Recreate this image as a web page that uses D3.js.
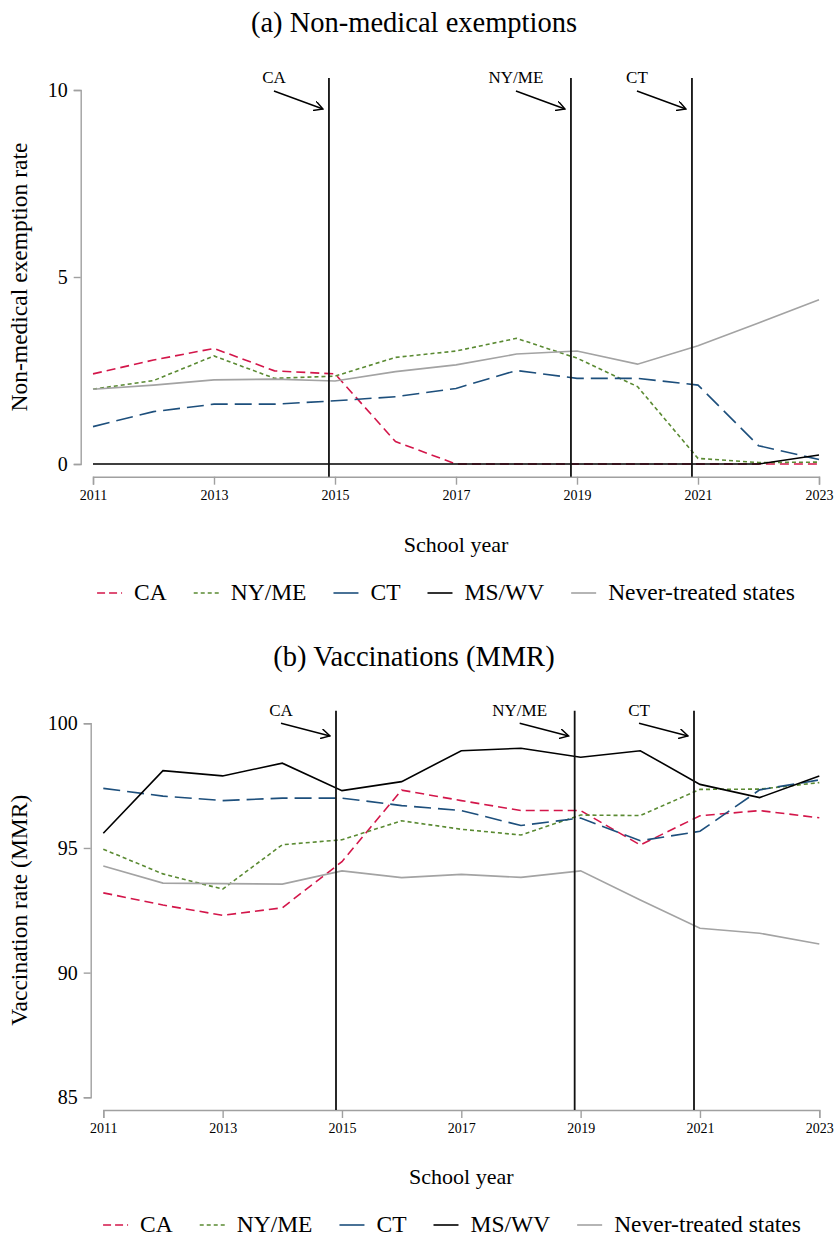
<!DOCTYPE html>
<html>
<head>
<meta charset="utf-8">
<title>Exemptions and vaccinations</title>
<script src="https://cdn.jsdelivr.net/npm/d3@7"></script>
<style>
  body { margin: 0; background: #fff; }
  text { font-family: "Liberation Serif", "Times New Roman", serif; fill: #000; }
</style>
</head>
<body>
<script>
// school years (x categories)
var years = [2011, 2012, 2013, 2014, 2015, 2016, 2017, 2018, 2019, 2020, 2021, 2022, 2023];
var xTicks = [2011, 2013, 2015, 2017, 2019, 2021, 2023];

// policy events (vertical lines)
var eventLabels = ["CA", "NY/ME", "CT"];
var eventYears = [2014.9, 2018.9, 2020.9];

// series names
var seriesNames = ["CA", "NY/ME", "CT", "MS/WV", "Never-treated states"];

// panel (a): non-medical exemption rate
var exemptCA    = [2.41, 2.78, 3.09, 2.49, 2.41, 0.60, 0, 0, 0, 0, 0, 0, 0];
var exemptNYME  = [2.00, 2.23, 2.89, 2.29, 2.35, 2.85, 3.02, 3.36, 2.83, 2.07, 0.15, 0.04, 0.05];
var exemptCT    = [1.00, 1.40, 1.60, 1.60, 1.69, 1.80, 2.02, 2.50, 2.29, 2.29, 2.11, 0.49, 0.12];
var exemptMSWV  = [0, 0, 0, 0, 0, 0, 0, 0, 0, 0, 0, 0, 0.24];
var exemptNever = [2.00, 2.11, 2.25, 2.27, 2.22, 2.47, 2.65, 2.94, 3.02, 2.67, 3.16, 3.77, 4.39];
var exemptTicks = [0, 5, 10];

// panel (b): MMR vaccination rate
var mmrCA    = [93.20, 92.71, 92.30, 92.60, 94.45, 97.32, 96.90, 96.50, 96.50, 95.12, 96.29, 96.50, 96.21];
var mmrNYME  = [94.95, 93.96, 93.35, 95.13, 95.33, 96.09, 95.75, 95.52, 96.32, 96.30, 97.35, 97.36, 97.62];
var mmrCT    = [97.39, 97.08, 96.90, 97.00, 97.00, 96.70, 96.50, 95.90, 96.20, 95.29, 95.67, 97.33, 97.73];
var mmrMSWV  = [95.59, 98.10, 97.89, 98.40, 97.30, 97.66, 98.90, 99.00, 98.64, 98.90, 97.55, 97.02, 97.89];
var mmrNever = [94.28, 93.59, 93.57, 93.55, 94.08, 93.81, 93.94, 93.82, 94.08, 92.91, 91.78, 91.58, 91.15];
var mmrTicks = [85, 90, 95, 100];

// line styles per series
var colors = ["#d3164a", "#5a8a32", "#1d4f7c", "#000000", "#a3a3a3"];
var dashes = ["9,5", "4,3", "17,7", null, null];
var widths = [1.6, 1.6, 1.6, 1.6, 1.6];

var W = 837, H = 1237;
var svg = d3.select("body").append("svg")
    .attr("width", W).attr("height", H);

// open arrow head
svg.append("defs").append("marker")
    .attr("id", "arr")
    .attr("viewBox", "0 0 10 10")
    .attr("refX", 9).attr("refY", 5)
    .attr("markerWidth", 10).attr("markerHeight", 10)
    .attr("markerUnits", "userSpaceOnUse")
    .attr("orient", "auto")
  .append("path")
    .attr("d", "M0,0 L9,5 L0,10")
    .attr("fill", "none").attr("stroke", "#000").attr("stroke-width", 1.4);

function drawPanel(p) {
  var g = svg.append("g");
  var x = d3.scaleLinear().domain([2011, 2023]).range([p.x0, p.x1]);
  var y = d3.scaleLinear().domain(p.yDomain).range([p.yBot, p.yTop]);

  // title
  g.append("text")
    .attr("x", p.titleX).attr("y", p.titleY)
    .attr("text-anchor", "middle")
    .style("font-size", "28.5px")
    .text(p.title);

  // y axis
  var ya = g.append("g")
    .attr("transform", "translate(" + p.yAxisX + ",0)")
    .call(d3.axisLeft(y).tickValues(p.yTicks).tickSize(7).tickPadding(6).tickFormat(d3.format("d")));
  ya.select(".domain").attr("stroke", "#a0a0a0").attr("stroke-width", 1.4);
  ya.selectAll(".tick line").attr("stroke", "#a0a0a0").attr("stroke-width", 1.4);
  ya.selectAll(".tick text").style("font-size", "20px")
    .style("font-family", "'Liberation Serif', serif").attr("fill", "#000");

  // x axis
  var xa = g.append("g")
    .attr("transform", "translate(0," + p.xAxisY + ")")
    .call(d3.axisBottom(x).tickValues(xTicks).tickSize(8).tickPadding(5).tickFormat(d3.format("d")));
  xa.select(".domain").attr("stroke", "#a0a0a0").attr("stroke-width", 1.4);
  xa.selectAll(".tick line").attr("stroke", "#a0a0a0").attr("stroke-width", 1.4);
  xa.selectAll(".tick text").style("font-size", "14px")
    .style("font-family", "'Liberation Serif', serif").attr("fill", "#000");

  // axis titles
  g.append("text")
    .attr("transform", "translate(" + p.yTitleX + "," + ((p.yTop + p.yBot) / 2) + ") rotate(-90)")
    .attr("text-anchor", "middle")
    .style("font-size", "23.5px")
    .text(p.yTitle);
  g.append("text")
    .attr("x", (p.x0 + p.x1) / 2).attr("y", p.xTitleY)
    .attr("text-anchor", "middle")
    .style("font-size", "22px")
    .text("School year");

  // series lines
  var line = d3.line()
    .x(function(d) { return x(d[0]); })
    .y(function(d) { return y(d[1]); });
  p.series.forEach(function(vals, i) {
    var pts = years.map(function(yr, j) { return [yr, vals[j]]; });
    g.append("path")
      .datum(pts)
      .attr("d", line)
      .attr("fill", "none")
      .attr("stroke", colors[i])
      .attr("stroke-width", widths[i])
      .attr("stroke-dasharray", dashes[i]);
  });

  // event lines with labels and arrows
  eventYears.forEach(function(ev, i) {
    var xl = x(ev);
    g.append("line")
      .attr("x1", xl).attr("x2", xl)
      .attr("y1", p.vTop).attr("y2", p.xAxisY)
      .attr("stroke", "#111").attr("stroke-width", 1.8);
    g.append("text")
      .attr("x", xl - 55).attr("y", p.vTop + 5)
      .attr("text-anchor", "middle")
      .style("font-size", "17px")
      .text(eventLabels[i]);
    g.append("line")
      .attr("x1", xl - 55).attr("y1", p.arrY0)
      .attr("x2", xl - 6).attr("y2", p.arrY1)
      .attr("stroke", "#000").attr("stroke-width", 1.4)
      .attr("marker-end", "url(#arr)");
  });

  // legend
  var lg = g.append("g");
  var cx = 0;
  seriesNames.forEach(function(name, i) {
    var it = lg.append("g");
    it.append("line")
      .attr("x1", 0).attr("x2", 25).attr("y1", -7).attr("y2", -7)
      .attr("stroke", colors[i]).attr("stroke-width", 1.6)
      .attr("stroke-dasharray", i === 0 ? "8,4" : (i === 1 ? "4,3" : null));
    var t = it.append("text").attr("x", 37).attr("y", 0)
      .style("font-size", "23.5px").text(name);
    it.attr("transform", "translate(" + cx + ",0)");
    cx += 37 + t.node().getComputedTextLength() + 27;
  });
  var total = cx - 27;
  lg.attr("transform", "translate(" + (p.legCenter - total / 2) + "," + p.legY + ")");
}

drawPanel({
  title: "(a) Non-medical exemptions", titleX: 414, titleY: 32,
  x0: 93, x1: 819, yDomain: [0, 10], yBot: 464, yTop: 90,
  yTicks: exemptTicks, yAxisX: 80.7, xAxisY: 476.7,
  yTitle: "Non-medical exemption rate", yTitleX: 27, xTitleY: 552,
  vTop: 78, arrY0: 91, arrY1: 109,
  series: [exemptCA, exemptNYME, exemptCT, exemptMSWV, exemptNever],
  legY: 600, legCenter: 446
});

drawPanel({
  title: "(b) Vaccinations (MMR)", titleX: 414, titleY: 666,
  x0: 103.3, x1: 819.3, yDomain: [85, 100], yBot: 1097.3, yTop: 723.3,
  yTicks: mmrTicks, yAxisX: 90.7, xAxisY: 1110,
  yTitle: "Vaccination rate (MMR)", yTitleX: 27, xTitleY: 1184,
  vTop: 710.7, arrY0: 723.3, arrY1: 736,
  series: [mmrCA, mmrNYME, mmrCT, mmrMSWV, mmrNever],
  legY: 1232, legCenter: 452
});
</script>
</body>
</html>
